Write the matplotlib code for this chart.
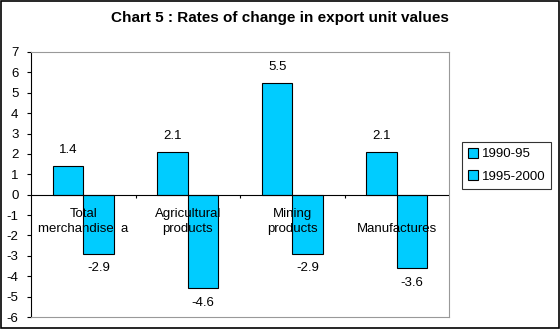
import matplotlib
matplotlib.use("Agg")
import matplotlib.pyplot as plt
from matplotlib.patches import Patch, Rectangle
import numpy as np

plt.rcParams['font.family'] = ['Liberation Sans', 'DejaVu Sans']

categories = ["Total\nmerchandise  a", "Agricultural\nproducts", "Mining\nproducts", "Manufactures"]
series_names = ["1990-95", "1995-2000"]
s1 = [1.4, 2.1, 5.5, 2.1]
s2 = [-2.9, -4.6, -2.9, -3.6]
yticks = list(range(-6, 8))

bar_color = "#00CCFF"
fs = 9.5

fig = plt.figure(figsize=(5.6, 3.29), dpi=100)
ax = fig.add_axes([31/560, 12/329, 418/560, 265/329])

x = np.arange(len(categories))
w = 0.29
ax.bar(x - w/2, s1, width=w, color=bar_color, edgecolor="black", linewidth=0.8, zorder=2)
ax.bar(x + w/2, s2, width=w, color=bar_color, edgecolor="black", linewidth=0.8, zorder=2)

ax.set_xlim(-0.5, 3.5)
ax.set_ylim(-6, 7)
ax.set_yticks(yticks)
ax.set_yticklabels([str(t) for t in yticks], fontsize=fs)
ax.tick_params(axis='y', direction='out', length=3, width=0.8, pad=6)
ax.set_xticks([])

for sp in ['top', 'right', 'bottom']:
    ax.spines[sp].set_color("#999999")
    ax.spines[sp].set_linewidth(0.8)
ax.spines['left'].set_color("black")
ax.spines['left'].set_linewidth(0.8)

ax.axhline(0, color="black", linewidth=0.8, zorder=3)
ax.vlines([0.5, 1.5, 2.5], -0.18, 0, color="black", linewidth=0.8, zorder=3)

for i, lab in enumerate(categories):
    ax.text(i, -2.0, lab, ha='center', va='bottom', fontsize=fs, linespacing=1.35, zorder=4)

for i, v in enumerate(s1):
    ax.text(i - w/2, v + 0.78 if v >= 0 else v - 0.72, f"{v}", ha='center', va='center', fontsize=fs, zorder=4)
for i, v in enumerate(s2):
    ax.text(i + w/2, v + 0.78 if v >= 0 else v - 0.72, f"{v}", ha='center', va='center', fontsize=fs, zorder=4)

fig.text(0.5, 1 - 18/329, "Chart 5 : Rates of change in export unit values",
         ha='center', va='center', fontsize=11, fontweight='bold')

handles = [Patch(facecolor=bar_color, edgecolor="black", linewidth=0.8) for _ in series_names]
leg = fig.legend(handles, series_names, loc='upper left', bbox_to_anchor=(462/560, 1 - 142/329),
                 frameon=True, fancybox=False, edgecolor='black', fontsize=fs,
                 handlelength=0.75, handleheight=0.75, handletextpad=0.3,
                 labelspacing=0.75, borderpad=0.45, borderaxespad=0)
leg.get_frame().set_linewidth(0.8)

fig.patches.append(Rectangle((0.001, 0.002), 0.997, 0.996, transform=fig.transFigure,
                             fill=False, edgecolor='black', linewidth=1.2))

fig.savefig("out.png", dpi=100)
